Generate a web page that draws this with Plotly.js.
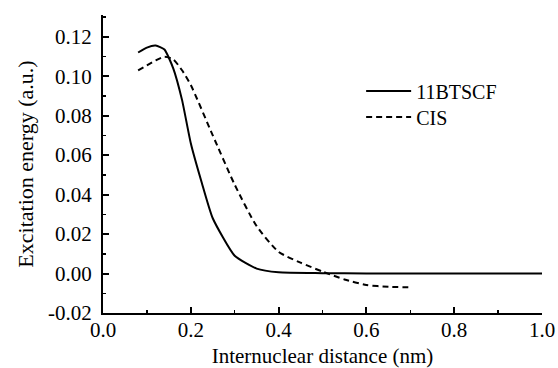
<!DOCTYPE html>
<html>
<head>
<meta charset="utf-8">
<script src="https://cdn.plot.ly/plotly-3.0.1.min.js"></script>
<style>html,body{margin:0;padding:0;background:#fff;}#chart{width:558px;height:368px;}</style>
</head>
<body>
<div id="chart"></div>
<script>
// 11BTSCF series
var btscfX = [0.08, 0.10, 0.12, 0.14, 0.16, 0.18, 0.20, 0.225, 0.25, 0.30, 0.35, 0.40, 0.50, 0.60, 0.70, 0.80, 0.90, 1.00];
var btscfY = [0.112, 0.1145, 0.1155, 0.1135, 0.104, 0.088, 0.066, 0.046, 0.028, 0.009, 0.0025, 0.0006, 0.0002, 0.0, 0.0, 0.0, 0.0, 0.0];
// CIS series
var cisX = [0.08, 0.10, 0.12, 0.14, 0.16, 0.18, 0.20, 0.25, 0.30, 0.35, 0.40, 0.45, 0.50, 0.55, 0.60, 0.65, 0.70];
var cisY = [0.103, 0.1055, 0.108, 0.1098, 0.1085, 0.103, 0.0955, 0.070, 0.045, 0.024, 0.011, 0.0055, 0.001, -0.003, -0.0058, -0.0067, -0.007];
var seriesNames = ["11BTSCF", "CIS"];
var xTickVals = [0.0, 0.2, 0.4, 0.6, 0.8, 1.0];
var xTickText = ["0.0", "0.2", "0.4", "0.6", "0.8", "1.0"];
var yTickVals = [-0.02, 0.00, 0.02, 0.04, 0.06, 0.08, 0.10, 0.12];
var yTickText = ["-0.02", "0.00", "0.02", "0.04", "0.06", "0.08", "0.10", "0.12"];

var font = "'Liberation Serif', 'Times New Roman', 'DejaVu Serif', serif";
var traces = [
  {x: btscfX, y: btscfY, name: seriesNames[0], mode: "lines", legend: "legend",
   line: {color: "#000", width: 2, shape: "spline", smoothing: 0.5}},
  {x: cisX, y: cisY, name: seriesNames[1], mode: "lines", legend: "legend2",
   line: {color: "#000", width: 2, dash: "6px,4px", shape: "spline", smoothing: 0.6}}
];
var legFont = {family: font, size: 20, color: "#000"};
var layout = {
  width: 558, height: 368,
  margin: {l: 103, r: 16, t: 15, b: 55},
  paper_bgcolor: "#fff", plot_bgcolor: "#fff",
  font: {family: font, color: "#000", size: 21},
  showlegend: true,
  legend: {x: 0.588, y: 0.7447, xanchor: "left", yanchor: "middle",
           font: legFont, bgcolor: "rgba(0,0,0,0)", itemwidth: 45},
  legend2: {x: 0.588, y: 0.6575, xanchor: "left", yanchor: "middle",
           font: legFont, bgcolor: "rgba(0,0,0,0)", itemwidth: 45},
  xaxis: {range: [0, 1.0], showgrid: false, zeroline: false,
          showline: true, linecolor: "#000", linewidth: 2,
          ticks: "inside", ticklen: 6, tickwidth: 2, tickcolor: "#000",
          tickvals: xTickVals, ticktext: xTickText, ticklabelstandoff: -3,
          minor: {ticks: "inside", ticklen: 3, tickwidth: 1.5, tickcolor: "#000", dtick: 0.1, showgrid: false},
          tickfont: {family: font, size: 21, color: "#000"},
          title: {text: "Internuclear distance (nm)", font: {family: font, size: 21, color: "#000"}, standoff: 10}},
  yaxis: {range: [-0.02, 0.131], showgrid: false, zeroline: false,
          showline: true, linecolor: "#000", linewidth: 2,
          ticks: "inside", ticklen: 6, tickwidth: 2, tickcolor: "#000",
          tickvals: yTickVals, ticktext: yTickText, ticklabelstandoff: 5,
          minor: {ticks: "inside", ticklen: 3, tickwidth: 1.5, tickcolor: "#000", dtick: 0.01, showgrid: false},
          tickfont: {family: font, size: 21, color: "#000"},
          title: {text: "Excitation energy (a.u.)", font: {family: font, size: 22, color: "#000"}, standoff: 8}}
};
Plotly.newPlot("chart", traces, layout, {displayModeBar: false, staticPlot: true});
</script>
</body>
</html>
